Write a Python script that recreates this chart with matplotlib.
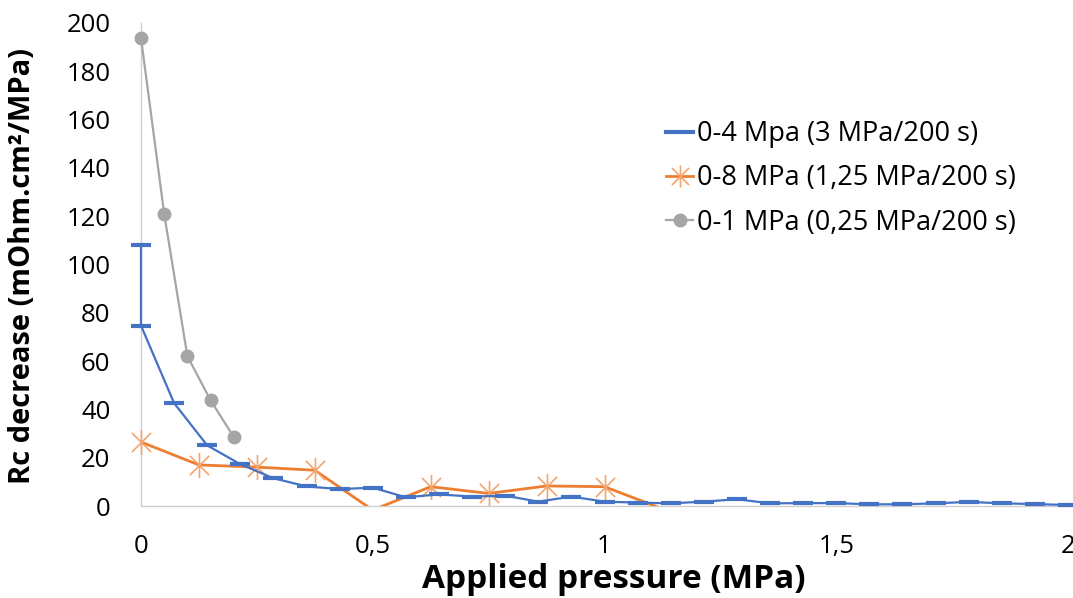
import numpy as np
import matplotlib
matplotlib.use("Agg")
import matplotlib.pyplot as plt
from matplotlib.lines import Line2D
from matplotlib.path import Path
from matplotlib.ticker import FuncFormatter

plt.rcParams["font.family"] = ["Open Sans", "DejaVu Sans"]

# --- data ---
blue_x = [0, 0] + [i / 14 for i in range(1, 29)]
blue_y = [108, 74.7, 42.6, 25.1, 17.3, 11.5, 8.1, 7.0, 7.6, 3.6, 4.8, 3.9, 4.3,
          1.8, 3.9, 1.8, 1.4, 1.1, 1.8, 2.8, 1.1, 1.2, 1.2, 0.7, 0.7, 1.1,
          1.7, 1.1, 0.8, 0.4]

orange_x = [0, 0.125, 0.25, 0.375, 0.5, 0.625, 0.75, 0.875, 1.0, 1.125]
orange_y = [26.5, 17.0, 16.1, 14.8, -1.7, 8.0, 5.2, 8.3, 8.0, -1.2]

gray_x = [0, 0.05, 0.1, 0.15, 0.2]
gray_y = [193.8, 121, 62.1, 43.8, 28.6]

labels = ["0-4 Mpa (3 MPa/200 s)", "0-8 MPa (1,25 MPa/200 s)", "0-1 MPa (0,25 MPa/200 s)"]

BLUE = "#4472C4"
ORANGE = "#ED7D31"
GRAY = "#A5A5A5"

# Excel-style star: X plus vertical bar
star = Path([(-1, -1), (1, 1), (-1, 1), (1, -1), (0, -1.3), (0, 1.3)],
            [Path.MOVETO, Path.LINETO, Path.MOVETO, Path.LINETO, Path.MOVETO, Path.LINETO])


def main():
    fig = plt.figure(figsize=(10.73, 5.98), dpi=100)
    ax = fig.add_axes([141 / 1073, 1 - 506 / 598, 927 / 1073, 483 / 598])

    # --- series ---
    ax.plot(blue_x, blue_y, color=BLUE, lw=1.6, marker="_", ms=14, mew=3,
            zorder=4, clip_on=False)

    ax.plot(orange_x, orange_y, color=ORANGE, lw=2, zorder=3)
    oy = np.ma.masked_less(np.array(orange_y), 0)
    ax.plot(orange_x, oy, ls="none", marker=star, ms=18, mew=1.2,
            color="#F4A46E", zorder=3, clip_on=False)

    ax.plot(gray_x, gray_y, color=GRAY, lw=1.6, marker="o", ms=9,
            zorder=5, clip_on=False)

    # --- axes ---
    ax.set_xlim(0, 2)
    ax.set_ylim(0, 200)
    ax.set_yticks(np.arange(0, 201, 20))
    ax.set_xticks([0, 0.5, 1, 1.5, 2])
    ax.xaxis.set_major_formatter(FuncFormatter(lambda v, p: f"{v:g}".replace(".", ",")))
    ax.tick_params(length=0, labelsize=18.5)
    ax.tick_params(axis="x", pad=20)
    ax.tick_params(axis="y", pad=22)

    for s in ["top", "right"]:
        ax.spines[s].set_visible(False)
    for s in ["left", "bottom"]:
        ax.spines[s].set_color("#D0D0D0")
        ax.spines[s].set_linewidth(1)
        ax.spines[s].set_zorder(1)

    ax.set_xlabel("Applied pressure (MPa)", fontsize=24, fontweight="bold", va="center")
    ax.xaxis.set_label_coords(0.51, -0.153)
    ax.set_ylabel("Rc decrease (mOhm.cm²/MPa)", fontsize=21, fontweight="bold", va="center")
    ax.yaxis.set_label_coords(-0.128, 0.497)

    # --- legend ---
    handles = [
        Line2D([], [], color=BLUE, lw=3),
        Line2D([], [], color=ORANGE, lw=2, marker=star, ms=16, mew=1.2,
               markeredgecolor="#F4A46E"),
        Line2D([], [], color=GRAY, lw=1.6, marker="o", ms=9),
    ]
    fig.legend(handles, labels, loc="upper left",
               bbox_to_anchor=(666 / 1073, 1 - 120 / 598),
               frameon=False, fontsize=19.5, handlelength=1.0, handletextpad=0.15,
               labelspacing=0.6, borderpad=0, borderaxespad=0)

    fig.savefig("out.png", dpi=100)
    plt.close(fig)


if __name__ == "__main__":
    main()
